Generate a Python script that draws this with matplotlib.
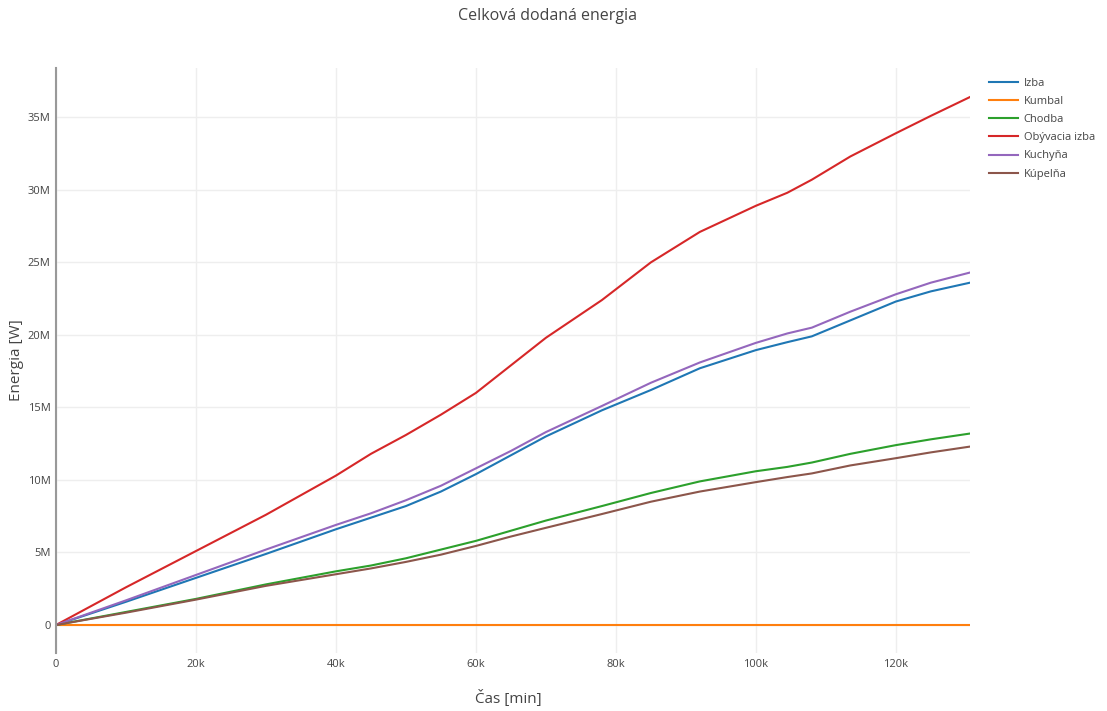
import matplotlib.pyplot as plt
from matplotlib.ticker import FuncFormatter

plt.rcParams['font.family'] = ['Open Sans', 'DejaVu Sans']

# time axis (minutes) and cumulative energy per room (W)
cas = [0, 10000, 20000, 30000, 40000, 45000, 50000, 55000, 60000, 65000, 70000,
       78000, 85000, 92000, 100000, 104500, 108000, 113500, 120000, 125000, 130600]

izba = [0, 1.6e6, 3.25e6, 4.9e6, 6.6e6, 7.4e6, 8.2e6, 9.2e6, 10.4e6, 11.7e6, 13.0e6,
        14.8e6, 16.2e6, 17.7e6, 18.95e6, 19.5e6, 19.9e6, 21.0e6, 22.3e6, 23.0e6, 23.6e6]
kumbal = [0] * len(cas)
chodba = [0, 0.9e6, 1.8e6, 2.8e6, 3.7e6, 4.1e6, 4.6e6, 5.2e6, 5.8e6, 6.5e6, 7.2e6,
          8.2e6, 9.1e6, 9.9e6, 10.6e6, 10.9e6, 11.2e6, 11.8e6, 12.4e6, 12.8e6, 13.2e6]
obyvacia = [0, 2.6e6, 5.1e6, 7.6e6, 10.3e6, 11.8e6, 13.1e6, 14.5e6, 16.0e6, 17.9e6, 19.8e6,
            22.4e6, 25.0e6, 27.1e6, 28.9e6, 29.8e6, 30.7e6, 32.3e6, 33.9e6, 35.1e6, 36.4e6]
kuchyna = [0, 1.7e6, 3.45e6, 5.2e6, 6.9e6, 7.7e6, 8.6e6, 9.6e6, 10.8e6, 12.0e6, 13.3e6,
           15.1e6, 16.7e6, 18.1e6, 19.45e6, 20.1e6, 20.5e6, 21.6e6, 22.8e6, 23.6e6, 24.3e6]
kupelna = [0, 0.85e6, 1.75e6, 2.7e6, 3.5e6, 3.9e6, 4.35e6, 4.85e6, 5.45e6, 6.1e6, 6.7e6,
           7.65e6, 8.5e6, 9.2e6, 9.85e6, 10.2e6, 10.45e6, 11.0e6, 11.5e6, 11.9e6, 12.3e6]

nazvy = ['Izba', 'Kumbal', 'Chodba', 'Obývacia izba', 'Kuchyňa', 'Kúpelňa']
farby = ['#1f77b4', '#ff7f0e', '#2ca02c', '#d62728', '#9467bd', '#8c564b']

W, H = 1107, 711
fig = plt.figure(figsize=(W / 100, H / 100), dpi=100)
ax = fig.add_axes([56 / W, 1 - 653 / H, (970 - 56) / W, (653 - 68) / H])

for hodnoty, nazov, farba in zip([izba, kumbal, chodba, obyvacia, kuchyna, kupelna], nazvy, farby):
    ax.plot(cas, hodnoty, color=farba, linewidth=1.5, label=nazov)

ax.set_xlim(0, 130600)
ax.set_ylim(-1.93e6, 38.4e6)
ax.set_xticks(range(0, 130001, 20000))
ax.set_yticks([i * 5e6 for i in range(8)])
ax.xaxis.set_major_formatter(FuncFormatter(lambda v, p: '0' if v == 0 else f'{int(v / 1000)}k'))
ax.yaxis.set_major_formatter(FuncFormatter(lambda v, p: '0' if v == 0 else f'{int(v / 1e6)}M'))

ax.grid(True, color='#eeeeee', linewidth=1)
ax.set_axisbelow(True)
for s in ['top', 'right', 'bottom']:
    ax.spines[s].set_visible(False)
ax.spines['left'].set_color('#999999')
ax.spines['left'].set_linewidth(1.5)
ax.tick_params(length=0, labelsize=8, colors='#444444', pad=4)

# axis titles and chart title placed in figure coordinates
fig.text(508 / W, 1 - 698 / H, 'Čas [min]', fontsize=11, color='#444444', ha='center', va='center')
fig.text(17 / W, 1 - 360 / H, 'Energia [W]', fontsize=11, color='#444444', ha='center', va='center',
         rotation=90)
fig.text(548 / W, 1 - 16 / H, 'Celková dodaná energia', fontsize=11.5, color='#444444',
         ha='center', va='center')

leg = ax.legend(loc='upper left', bbox_to_anchor=(1.01, 1.0), frameon=False,
                fontsize=8, handlelength=2.6, labelspacing=0.64, handletextpad=0.5)
for t in leg.get_texts():
    t.set_color('#444444')

fig.savefig('out.png', dpi=100)
